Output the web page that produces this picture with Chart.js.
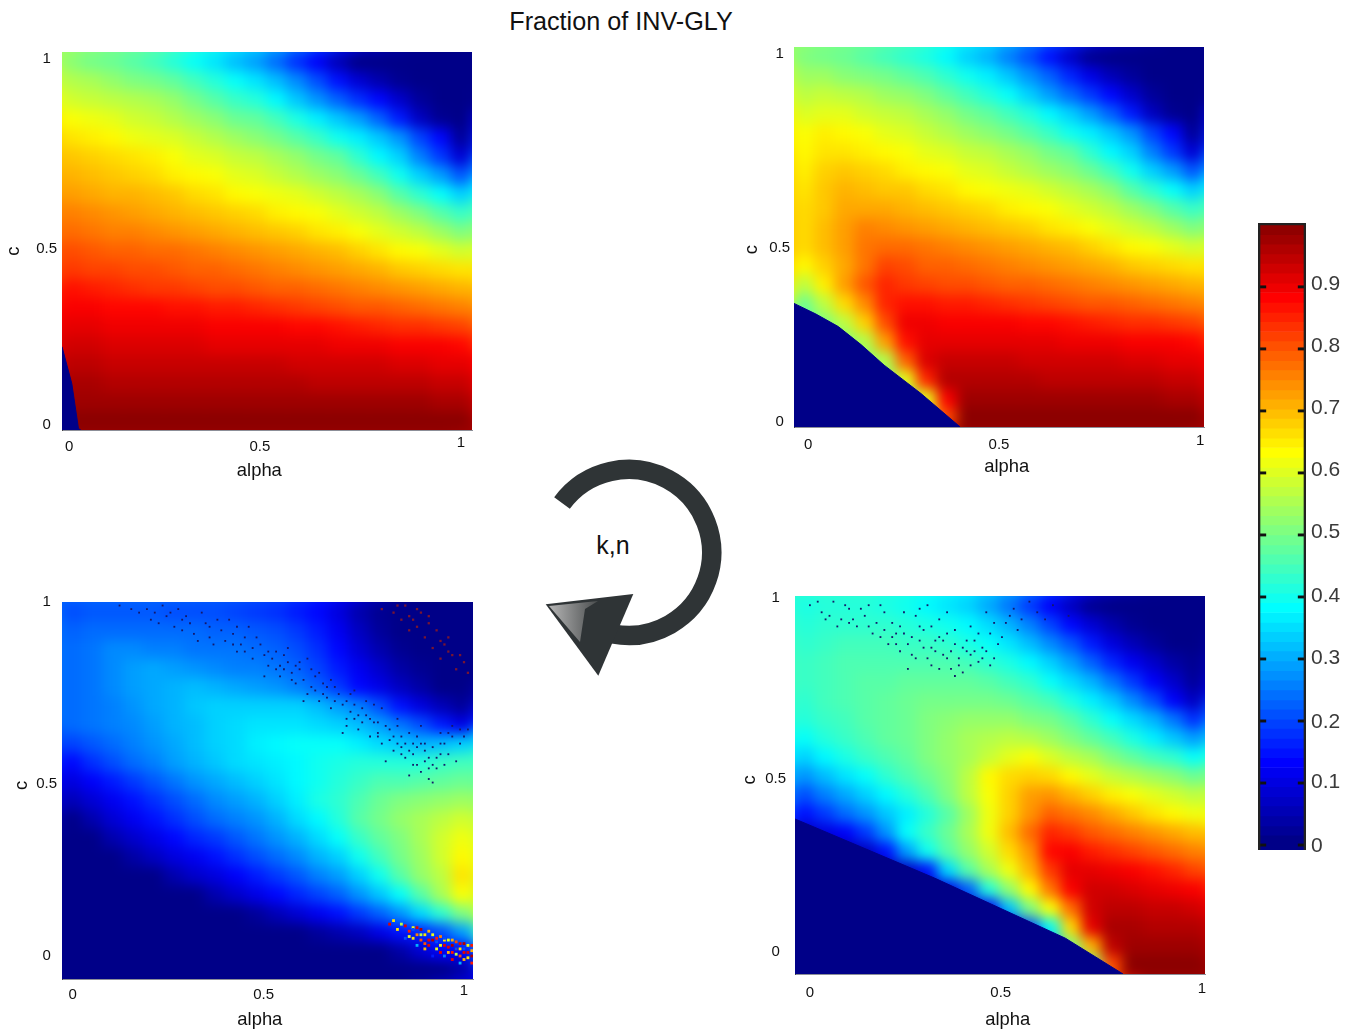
<!DOCTYPE html>
<html><head><meta charset="utf-8">
<script src="https://cdn.jsdelivr.net/npm/chart.js@4"></script>
<style>
html,body{margin:0;padding:0;background:#fff;width:1359px;height:1030px;overflow:hidden;font-family:"Liberation Sans",Arial,sans-serif}
canvas{position:absolute}
.t{position:absolute;color:#111;white-space:nowrap;transform:translate(-50%,-50%)}
svg{position:absolute;left:0;top:0}
</style></head><body>
<div class="t" style="left:621px;top:21px;font-size:25.2px">Fraction of INV-GLY</div>
<div class="t" style="left:613px;top:545px;font-size:25px">k,n</div>
<svg width="1359" height="1030">
<defs><linearGradient id="g" x1="0" y1="0" x2="1" y2="0"><stop offset="0" stop-color="#b5b5b5"/><stop offset="1" stop-color="#4a4d4e"/></linearGradient></defs>
<path d="M562 503 A83 83 0 1 1 613 634" fill="none" stroke="#2f3436" stroke-width="19.5"/>
<polygon points="545.7,604.3 633.3,594 598.3,675.7" fill="#2f3436"/>
<polygon points="549,606 598,601 585,609 580,642" fill="url(#g)"/>
</svg>
<script>
const alphaColumns=20, cRows=20;
// Fraction of INV-GLY, percent, top row to bottom row, alpha left to right
const cellsTL=[
[51,49,48,46,44,41,38,35,31,28,23,17,12,5,0,0,0,0,0,0],
[55,54,52,50,49,47,44,41,38,35,31,26,20,14,8,4,1,0,0,0],
[58,57,56,55,54,52,49,46,43,41,37,32,27,22,17,13,7,2,0,0],
[62,61,60,58,57,55,53,51,48,47,44,40,36,32,28,22,15,6,1,0],
[65,64,63,61,60,59,57,55,53,51,49,46,43,39,36,32,27,19,13,2],
[68,67,66,65,64,62,60,59,57,56,54,52,49,47,42,37,33,25,18,8],
[70,69,68,67,66,64,63,62,60,59,57,55,53,51,48,44,39,33,28,21],
[72,71,70,70,69,68,66,65,63,62,61,60,58,56,54,51,46,42,38,33],
[75,74,73,72,71,70,69,68,67,66,64,63,62,60,58,56,53,50,46,43],
[77,76,75,75,74,73,72,71,70,69,68,67,65,64,62,60,58,56,53,50],
[80,79,78,78,77,77,76,75,74,73,72,71,70,69,67,65,63,62,60,58],
[82,81,81,80,80,79,78,78,77,76,75,74,73,72,71,70,68,67,66,65],
[86,85,84,83,82,82,81,80,80,79,78,78,77,76,75,74,73,72,71,70],
[88,88,87,87,87,86,86,85,85,84,83,82,81,80,79,79,78,77,76,75],
[90,90,89,89,89,89,89,88,88,88,88,87,87,86,85,84,83,83,82,81],
[92,92,91,91,91,91,91,90,90,90,90,90,90,89,89,89,88,88,88,87],
[94,94,93,93,93,93,93,93,93,93,93,92,92,92,92,92,91,91,90,90],
[96,96,95,95,95,95,95,95,95,95,95,95,94,94,94,94,94,94,93,93],
[97,97,97,97,97,97,97,97,97,97,97,97,97,97,97,97,97,97,96,96],
[99,99,99,99,99,99,99,99,99,99,99,99,99,99,99,99,99,99,99,99]];
const cellsTR=[
[50,49,48,46,44,42,40,37,33,30,25,20,14,7,1,0,0,0,0,0],
[53,53,51,50,49,47,45,42,39,36,32,27,22,16,10,5,2,0,0,0],
[56,57,56,55,53,52,50,47,44,41,38,33,28,23,18,13,7,2,0,0],
[59,60,60,58,57,56,54,52,49,47,44,41,37,33,28,22,15,6,1,0],
[62,64,63,62,60,59,57,55,53,51,49,46,43,39,36,32,27,19,13,2],
[63,65,65,64,63,62,60,59,57,56,54,52,49,47,42,37,33,25,18,8],
[64,67,68,67,66,64,63,62,60,59,57,55,53,51,48,44,39,33,28,21],
[65,68,70,69,68,68,66,65,63,62,61,60,58,56,54,51,46,42,38,33],
[66,68,71,71,71,70,69,68,67,66,64,63,62,60,58,56,53,50,46,43],
[66,69,72,75,74,73,72,71,70,69,68,67,65,64,62,60,58,56,53,50],
[66,69,72,76,77,77,76,75,74,73,72,71,70,69,67,65,63,62,60,58],
[63,67,71,76,81,80,78,78,77,76,75,74,73,72,71,70,68,67,66,65],
[56,64,72,79,84,82,81,80,80,79,78,78,77,76,75,74,73,72,71,70],
[48,56,66,74,84,86,86,85,85,84,83,82,81,80,79,79,78,77,76,75],
[45,50,56,67,80,89,89,88,88,88,88,87,87,86,85,84,83,83,82,81],
[45,45,50,55,72,86,90,90,90,90,90,90,90,89,89,89,88,88,88,87],
[45,45,50,50,55,78,91,93,93,93,93,92,92,92,92,92,91,91,90,90],
[45,45,50,50,50,60,84,95,95,95,95,95,94,94,94,94,94,94,93,93],
[45,45,50,50,50,50,60,88,97,97,97,97,97,97,97,97,97,97,96,96],
[45,45,50,50,50,50,60,80,99,99,99,99,99,99,99,99,99,99,99,99]];
const cellsBL=[
[20,21,21,21,21,20,20,20,19,18,17,15,13,9,4,1,0,0,0,0],
[22,23,23,23,23,23,23,22,22,21,20,18,15,11,6,2,0,0,0,0],
[23,24,26,26,25,25,24,24,24,23,22,20,17,13,8,4,1,0,0,0],
[23,24,26,28,29,28,27,26,25,25,24,22,19,15,11,7,3,1,0,0],
[23,24,26,28,29,30,31,30,29,28,27,25,22,18,13,10,6,3,0,0],
[23,24,25,27,29,30,32,33,33,33,33,33,31,28,25,20,14,9,5,2],
[23,24,25,26,28,30,31,33,34,35,35,35,34,33,31,28,24,20,15,10],
[19,21,23,25,27,29,31,33,34,36,37,38,38,38,36,34,32,30,31,33],
[13,17,20,23,25,28,30,32,34,35,36,37,39,40,41,41,41,41,43,44],
[9,12,15,18,21,24,27,29,31,33,35,37,39,41,43,45,45,46,47,48],
[5,8,11,14,17,20,23,26,28,30,33,36,40,42,45,48,50,51,52,53],
[0,4,8,11,14,17,20,23,25,27,30,34,37,41,46,49,52,54,56,58],
[0,0,4,7,10,13,16,18,21,24,27,30,34,38,43,47,50,54,58,61],
[0,0,0,3,6,9,11,14,17,20,23,26,30,33,39,44,49,53,58,63],
[0,0,0,0,0,4,7,9,12,15,18,21,25,28,33,39,46,52,56,65],
[0,0,0,0,0,0,0,4,7,10,13,16,19,22,27,32,38,46,54,62],
[0,0,0,0,0,0,0,0,0,2,5,8,11,14,18,22,27,34,42,50],
[0,0,0,0,0,0,0,0,0,0,0,0,2,4,6,10,14,16,20,28],
[0,0,0,0,0,0,0,0,0,0,0,0,0,0,0,0,3,8,12,12],
[0,0,0,0,0,0,0,0,0,0,0,0,0,0,0,0,0,0,0,3]];
const cellsBR=[
[40,41,41,41,40,39,37,35,33,29,24,18,12,6,1,0,0,0,0,0],
[41,42,42,42,42,41,40,39,37,34,30,25,19,13,8,4,1,0,0,0],
[42,43,44,44,44,43,43,42,40,38,35,31,26,21,15,9,5,2,0,0],
[43,44,45,45,45,45,45,45,44,42,40,37,33,28,22,16,11,7,3,1],
[43,44,45,46,46,47,47,47,47,46,44,42,38,34,30,24,18,12,7,2],
[42,44,45,46,47,48,49,49,49,49,48,46,44,40,36,32,26,20,12,6],
[41,43,44,46,47,48,50,51,52,52,52,50,49,46,42,38,34,30,24,17],
[38,41,43,45,47,48,50,52,54,55,56,55,53,50,47,44,40,36,32,28],
[33,37,40,43,45,47,50,52,54,57,60,62,59,56,54,50,47,44,42,38],
[27,31,35,38,42,45,48,51,56,63,66,67,66,63,60,57,55,53,51,48],
[20,25,29,33,37,41,45,50,56,62,67,72,73,70,67,64,62,60,58,56],
[14,18,23,27,32,36,41,46,53,61,67,73,78,76,74,71,68,65,63,61],
[6,9,12,18,27,38,43,48,54,61,69,77,84,82,79,77,75,73,71,69],
[2,3,4,6,14,28,39,46,52,58,66,73,87,88,85,83,81,79,77,75],
[0,0,0,2,4,6,14,34,46,54,61,70,82,90,90,89,88,86,84,81],
[0,0,0,0,0,2,5,10,22,41,52,63,76,88,92,92,91,90,89,88],
[0,0,0,0,0,0,0,2,6,12,32,50,62,77,92,94,94,93,93,92],
[0,0,0,0,0,0,0,0,0,4,10,20,38,66,90,96,96,95,95,95],
[0,0,0,0,0,0,0,0,0,0,0,8,28,50,70,94,97,97,97,97],
[0,0,0,0,0,0,0,0,0,0,0,0,10,30,50,80,99,99,99,99]];
// Edges of the dark zero-fraction regions, alpha and c
const edgeTLa=[-0.018,0.007,0.024,0.03], edgeTLc=[0.212,0.111,-0.012,-0.016];
const edgeTRa=[-0.036,0.02,0.077,0.135,0.194,0.288,0.388], edgeTRc=[0.322,0.293,0.259,0.21,0.154,0.077,-0.014];
const edgeBRa=[-0.038,0.318,0.652,0.799], edgeBRc=[0.376,0.209,0.039,-0.062];
// Isolated noisy pixels, alpha and c
const noiseBL=[[.17,.97],[.2,.95],[.23,.99],[.26,.93],[.29,.96],[.31,.91],[.34,.94],[.36,.88],[.38,.92],[.4,.95],[.42,.86],[.44,.9],[.46,.84],[.48,.88],[.5,.82],[.52,.86],[.53,.79],[.55,.83],[.57,.77],[.58,.81],[.6,.74],[.62,.79],[.63,.72],[.65,.76],[.66,.7],[.68,.74],[.7,.67],[.72,.71],[.73,.64],[.75,.68],[.76,.62],[.78,.66],[.79,.6],[.81,.64],[.82,.58],[.84,.62],[.85,.56],[.87,.6],[.88,.54],[.9,.58],[.91,.53],[.93,.56],[.95,.6],[.97,.62],[.98,.55],[.6,.84],[.66,.78],[.72,.75],[.77,.71],[.83,.67],[.89,.65],[.94,.63],[.27,.98],[.33,.97],[.45,.93],[.55,.87],[.49,.79],[.59,.72],[.69,.63],[.8,.55],[.86,.51],[.92,.49],[.24,.96],[.35,.9],[.43,.88],[.51,.84],[.56,.8],[.64,.74],[.71,.69],[.74,.66],[.83,.6],[.88,.59],[1.01,.64],
[.12,.99],[.15,.98],[.19,.98],[.22,.94],[.25,.97],[.28,.92],[.3,.94],[.32,.89],[.37,.95],[.39,.89],[.41,.91],[.44,.86],[.47,.9],[.49,.85],[.52,.81],[.54,.85],[.56,.78],[.58,.83],[.61,.76],[.63,.8],[.65,.73],[.67,.76],[.69,.71],[.71,.74],[.73,.68],[.75,.72],[.77,.66],[.79,.7],[.81,.61],[.83,.65],[.85,.6],[.86,.63],[.87,.57],[.89,.6],[.9,.55],[.92,.59],[.93,.53],[.94,.6],[.96,.57],[.97,.65],[.99,.6],[1,.62],[.89,.52],[.91,.5],[.84,.57],[.78,.62],[.7,.65],[.62,.75],[.53,.82],[.42,.93],
[.21,.97],[.28,.95],[.35,.93],[.41,.88],[.46,.87],[.5,.86],[.54,.81],[.57,.82],[.59,.78],[.61,.81],[.64,.77],[.67,.72],[.7,.72],[.72,.67],[.74,.7],[.76,.67],[.78,.63],[.8,.65],[.82,.62],[.84,.59],[.86,.58],[.88,.62],[.9,.6],[.92,.54],[.94,.57],[.91,.56],[.87,.54],[.95,.54],[.99,.64],[.96,.63]];
const noiseBLred=[[.79,.98],[.82,.97],[.85,.99],[.87,.95],[.89,.97],[.91,.94],[.86,.92],[.9,.9],[.93,.92],[.92,.87],[.95,.88],[.97,.85],[.94,.84],[.98,.81],[1,.83],[.96,.9],[.88,.98],[.84,.95],[.88,.93],[.91,.96],[.94,.89],[.96,.86],[.99,.85],[1.01,.8],[.83,.99],[.86,.96]];
const noiseBR=[[.0,.98],[.03,.96],[.06,.99],[.08,.94],[.1,.97],[.12,.92],[.14,.95],[.16,.9],[.18,.98],[.2,.87],[.21,.93],[.23,.85],[.24,.96],[.26,.89],[.27,.83],[.28,.92],[.29,.86],[.3,.98],[.31,.81],[.32,.88],[.33,.94],[.34,.84],[.35,.9],[.36,.8],[.37,.87],[.38,.83],[.39,.79],[.4,.85],[.41,.92],[.42,.88],[.43,.82],[.44,.86],[.45,.96],[.46,.9],[.47,.83],[.48,.87],[.5,.93],[.52,.97],[.54,.94],[.58,.96],[.62,.98],[.66,.95],[.19,.91],[.25,.8],[.33,.8],[.37,.78],[.41,.84],[.15,.98],[.22,.9],[.28,.97],
[.02,.99],[.05,.95],[.09,.98],[.11,.94],[.13,.97],[.17,.93],[.19,.96],[.21,.89],[.23,.92],[.25,.87],[.27,.95],[.29,.91],[.31,.86],[.33,.89],[.35,.83],[.37,.91],[.39,.86],[.41,.81],[.43,.9],[.45,.85],[.47,.93],[.49,.89],[.51,.95],[.53,.91],[.56,.99],[.6,.94],
[.04,.94],[.07,.92],[.1,.93],[.15,.92],[.18,.89],[.22,.87],[.24,.9],[.26,.84],[.3,.83],[.32,.85],[.34,.88],[.36,.85],[.38,.81],[.4,.88],[.42,.85],[.44,.83],[.46,.81],[.28,.88],[.31,.92],[.35,.96]];
const patchBL=[[.81,.09,.9],[.82,.1,.65],[.83,.075,.65],[.84,.09,.55],[.85,.085,.9],[.86,.07,.85],[.87,.05,.65],[.87,.08,.6],[.88,.08,.9],[.88,.06,.75],[.89,.06,.55],[.89,.075,.95],[.9,.035,.8],[.9,.06,.65],[.91,.07,.7],[.91,.045,.9],[.92,.045,.95],[.92,.06,.6],[.93,.02,.6],[.93,.05,.85],[.94,.055,.75],[.94,.03,.6],[.95,.03,.9],[.95,.045,.65],[.96,.045,.6],[.96,.01,.7],[.96,.025,.9],[.97,.03,.95],[.97,.045,.7],[.97,.01,.85],[.98,.005,.55],[.98,.04,.8],[.98,.02,.95],[.99,.02,.65],[.99,.035,.9],[.99,0,.8],[1,.035,.95],[1,-.01,.7],[1,.01,.9],[1.01,.01,.9],[1.01,.03,.6],[1.01,-.005,.65],[1.02,-.02,.85],[1.02,.015,.7],[1.02,0,.95],[1.02,.03,.85],[.85,.05,.2],[.88,.03,.3],[.92,0,.15],[.95,.0,.25],[.99,-.02,.3],[.97,-.01,.9],[.9,.02,.7],[.94,.01,.9],[.87,.075,.2],[.93,.04,.2],[.98,.02,.2],[1,.02,.2],[.95,.05,.2],[.91,.03,.9],[.89,.045,.8],[.86,.055,.6]];
const xTickLabels=['0','0.5','1'], yTickLabels=['0','0.5','1'];
const xTicksTL=[0,.487,1], yTicksTL=[-.002,.479,1];
const xTicksTR=[0,.487,1], yTicksTR=[0,.473,1];
const xTicksBL=[0,.488,1], yTicksBL=[0,.486,1];
const xTicksBR=[0,.487,1], yTicksBR=[0,.489,1];
const barEdges=[-.008,.016,.031,.047,.063,.078,.094,.109,.125,.141,.156,.172,.188,.203,.219,.234,.25,.266,.281,.297,.313,.328,.344,.359,.375,.391,.406,.422,.438,.453,.469,.484,.5,.516,.531,.547,.563,.578,.594,.609,.625,.641,.656,.672,.688,.703,.719,.734,.75,.766,.781,.797,.813,.828,.844,.859,.875,.891,.906,.922,.938,.953,.969,.984,1.003];
const barTickValues=[0,.1,.2,.3,.4,.5,.6,.7,.8,.9];
const barLabelValues=[-.002,.102,.198,.302,.402,.505,.605,.705,.805,.905];
const barLabels=['0','0.1','0.2','0.3','0.4','0.5','0.6','0.7','0.8','0.9'];
const jetStops=[[0,0,0,136],[.125,0,0,255],[.375,0,255,255],[.625,255,255,0],[.875,255,0,0],[1,128,0,0]];

function jet(v){
  v=Math.max(0,v);
  for(let i=1;i<jetStops.length;i++){
    const a=jetStops[i-1],b=jetStops[i];
    if(v<=b[0]){const f=(v-a[0])/(b[0]-a[0]);
      return `rgb(${[1,2,3].map(k=>Math.round(a[k]+(b[k]-a[k])*f)).join(',')})`;}
  }
  return 'rgb(128,0,0)';
}
// Softens the library-drawn cells together, once the last of them is painted
const softCells={id:'softCells',
  afterDatasetDraw(c,a){
    if(a.index!==0)return;
    const ar=c.chartArea,P=30,W=ar.right-ar.left,H=ar.bottom-ar.top;
    const off=document.createElement('canvas');off.width=W+2*P;off.height=H+2*P;
    const oc=off.getContext('2d');
    oc.drawImage(c.canvas,ar.left,ar.top,W,H,0,0,W+2*P,H+2*P);
    oc.drawImage(c.canvas,ar.left,ar.top,W,H,P,P,W,H);
    const ctx=c.ctx;ctx.save();
    ctx.beginPath();ctx.rect(ar.left,ar.top,W,H);ctx.clip();
    ctx.filter='blur(6.5px)';
    ctx.drawImage(off,ar.left-P,ar.top-P);
    ctx.restore();
  }};

function zero(xs,ys){return xs.map((x,i)=>({x,y:ys[i]}));}
function panel(o){
  const W=o.right-o.left,H=o.bottom-o.top,PAD=8,Y=62;
  const cv=document.createElement('canvas');
  const box={l:o.left-Y,t:o.top-PAD,w:Y+W+PAD,h:PAD+H+o.axisH};
  cv.style.left=box.l+'px';cv.style.top=box.t+'px';cv.style.width=box.w+'px';cv.style.height=box.h+'px';
  document.body.appendChild(cv);
  const sx=(o.xMax-o.xMin)/alphaColumns, sy=(o.yMax-o.yMin)/cRows;
  const cw=Math.ceil(W/alphaColumns)+1;
  const ds=[];
  o.cells.forEach((row,r)=>{
    ds.push({type:'bar',order:5,grouped:false,barThickness:cw,borderWidth:0,
      data:row.map((v,i)=>({x:o.xMin+(i+.5)*sx,y:[o.yMax-(r+1)*sy,o.yMax-r*sy]})),
      backgroundColor:row.map(v=>jet(v/100))});
  });
  if(o.edge)ds.push({type:'line',order:2,data:zero(o.edge[0],o.edge[1]),fill:'start',backgroundColor:jet(0),borderColor:jet(0),borderWidth:1,pointRadius:0,tension:0});
  (o.noise||[]).forEach(n=>ds.push({type:'scatter',order:1,data:n.pts.map(p=>({x:p[0],y:p[1]})),
    pointBackgroundColor:n.pts.map(p=>p.length>2?jet(p[2]):n.color),pointRadius:n.r,pointBorderWidth:0,pointStyle:'rect',showLine:false}));
  new Chart(cv,{data:{datasets:ds},plugins:[softCells],options:{
    responsive:false,animation:false,events:[],devicePixelRatio:1,
    layout:{padding:{left:0,top:PAD,right:PAD,bottom:0}},
    plugins:{legend:{display:false},tooltip:{enabled:false}},
    scales:{
      x:{type:'linear',position:'bottom',min:o.xMin,max:o.xMax,offset:false,
        grid:{display:false,drawTicks:false,offset:false},border:{color:'#8c8f98',width:1},
        afterBuildTicks:s=>{s.ticks=o.xTicks.map(v=>({value:v}));},
        afterFit:s=>{s.height=o.axisH;s.paddingLeft=s.paddingRight=0;},
        ticks:{autoSkip:false,maxRotation:0,minRotation:0,padding:o.xPad,color:'#111',
          font:{family:'Liberation Sans',size:15,lineHeight:'4px'},
          callback:(v,i)=>i===2?xTickLabels[i]:['',xTickLabels[i]]},
        title:{display:true,text:o.xTitle,color:'#111',font:{family:'Liberation Sans',size:18.4,lineHeight:'18px'},padding:{top:0,bottom:o.xTitlePad}}},
      y:{type:'linear',position:'left',min:o.yMin,max:o.yMax,
        grid:{display:false,drawTicks:false},border:{color:'#454545',width:1},
        afterBuildTicks:s=>{s.ticks=o.yTicks.map(v=>({value:v}));},
        afterFit:s=>{s.width=Y;s.paddingTop=s.paddingBottom=0;},
        ticks:{autoSkip:false,crossAlign:'center',padding:o.yPad,color:'#111',font:{family:'Liberation Sans',size:15},
          callback:(v,i)=>yTickLabels[i]},
        title:{display:true,text:o.yTitle,color:'#111',font:{family:'Liberation Sans',size:18.4,lineHeight:'18px'},padding:{top:o.yTitlePad,bottom:0}}}
    }}});
}
panel({left:62,right:472,top:52,bottom:430,axisH:55,cells:cellsTL,xMin:-.018,xMax:1.028,yMin:-.016,yMax:1.019,xTicks:xTicksTL,yTicks:yTicksTL,
  xPad:11,yPad:5,xTitle:'alpha   ',yTitle:'c    ',xTitlePad:5,yTitlePad:5,edge:[edgeTLa,edgeTLc]});
panel({left:794,right:1204,top:47,bottom:427,axisH:55,cells:cellsTR,xMin:-.036,xMax:1.01,yMin:-.014,yMax:1.019,xTicks:xTicksTR,yTicks:yTicksTR,
  xPad:12,yPad:4,xTitle:'   alpha',yTitle:'c     ',xTitlePad:6,yTitlePad:11,edge:[edgeTRa,edgeTRc]});
panel({left:62,right:473,top:602,bottom:979,axisH:50,cells:cellsBL,xMin:-.027,xMax:1.023,yMin:-.065,yMax:1,xTicks:xTicksBL,yTicks:yTicksBL,
  xPad:10,yPad:5,xTitle:'alpha   ',yTitle:'  c',xTitlePad:0,yTitlePad:13,
  noise:[{pts:noiseBL,color:'#14186a',r:1.3},{pts:noiseBLred,color:'#7a1530',r:1.6},{pts:patchBL,color:'#f80',r:2}]});
panel({left:795,right:1205,top:596,bottom:974,axisH:55,cells:cellsBR,xMin:-.038,xMax:1.008,yMin:-.062,yMax:1.006,xTicks:xTicksBR,yTicks:yTicksBR,
  xPad:13,yPad:9,xTitle:'   alpha',yTitle:'  c',xTitlePad:0,yTitlePad:8,edge:[edgeBRa,edgeBRc],
  noise:[{pts:noiseBR,color:'#14186a',r:1.3}]});

// colour bar
(function(){
  const cv=document.createElement('canvas');
  const l=1250,t=215,w=109,h=643;
  cv.style.left=l+'px';cv.style.top=t+'px';cv.style.width=w+'px';cv.style.height=h+'px';
  document.body.appendChild(cv);
  const levels=barEdges.slice(0,-1);
  const ds=[
    {type:'bar',order:5,grouped:false,barThickness:48,borderWidth:0,
     data:levels.map((v,i)=>({x:.5,y:[v,barEdges[i+1]]})),backgroundColor:levels.map(v=>jet(v))},
    {type:'bar',order:3,grouped:false,barThickness:8,borderWidth:0,backgroundColor:'#111',
     data:barTickValues.map(v=>({x:.08,y:[v-.0018,v+.0018]}))},
    {type:'bar',order:3,grouped:false,barThickness:8,borderWidth:0,backgroundColor:'#111',
     data:barTickValues.map(v=>({x:.92,y:[v-.0018,v+.0018]}))},
    {type:'bar',order:1,grouped:false,barThickness:48,borderWidth:2,borderColor:'#222',backgroundColor:'rgba(0,0,0,0)',
     data:[{x:.5,y:[-.008,1.003]}]}
  ];
  new Chart(cv,{data:{datasets:ds},options:{
    responsive:false,animation:false,events:[],devicePixelRatio:1,
    layout:{padding:{left:8,top:8,right:0,bottom:8}},
    plugins:{legend:{display:false},tooltip:{enabled:false}},
    scales:{
      x:{type:'linear',display:false,min:0,max:1,offset:false,grid:{offset:false}},
      y:{type:'linear',position:'right',min:-.008,max:1.003,
        grid:{display:false,drawTicks:false},border:{display:false},
        afterBuildTicks:s=>{s.ticks=barLabelValues.map(v=>({value:v}));},
        afterFit:s=>{s.width=53;s.paddingTop=s.paddingBottom=0;},
        ticks:{autoSkip:false,padding:5,color:'#3a3a3a',font:{family:'Liberation Sans',size:21},callback:(v,i)=>barLabels[i]}}
    }}});
})();
</script>
</body></html>
